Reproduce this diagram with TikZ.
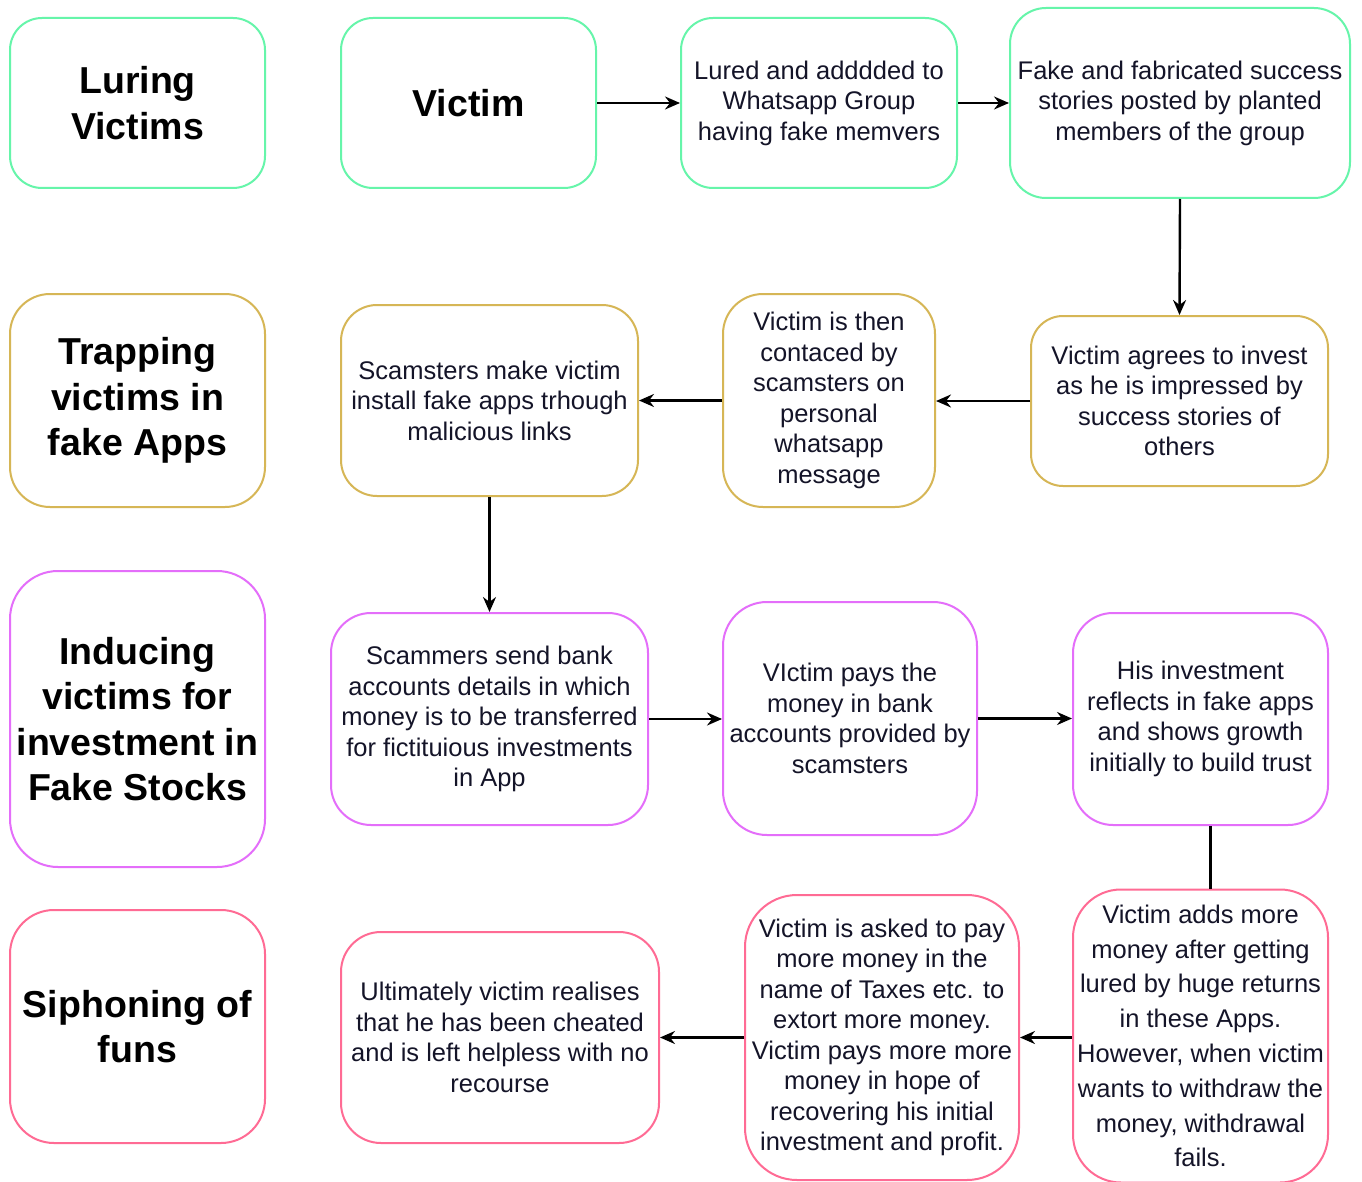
\documentclass[tikz,border=0pt]{standalone}
\usepackage{fontspec}
\setmainfont{Liberation Sans}
\usetikzlibrary{arrows.meta}
\definecolor{cgreen}{HTML}{66F5AA}
\definecolor{cgold}{HTML}{D6B656}
\definecolor{cviolet}{HTML}{E46EFA}
\definecolor{cpink}{HTML}{FF6B94}
\definecolor{ctext}{HTML}{141428}
\tikzset{
  box/.style={draw, line width=2pt, align=center, inner sep=1pt, text=ctext,
    font=\fontsize{25.5}{30.5}\selectfont},
  head/.style={box, text=black, font=\bfseries\fontsize{37.5}{45.5}\selectfont},
  arr/.style={-{Stealth[length=15pt,width=13pt,inset=5pt]}, line width=2.4pt},
  plain/.style={line width=2.4pt},
}
\begin{document}
\begin{tikzpicture}[x=1pt,y=-1pt]
\useasboundingbox[fill=white] (0,0) rectangle (1362,1182);
% Row 1
\node[head, draw=cgreen, minimum width=255pt, minimum height=170pt, rounded corners=32pt] (luring) at (137.5,103) {Luring\\Victims};
\node[head, draw=cgreen, minimum width=255pt, minimum height=170pt, rounded corners=32pt] (victim) at (468.5,103) {Victim};
\node[box, draw=cgreen, minimum width=276pt, minimum height=170pt, rounded corners=32pt] (lured) at (819,103) {Lured and adddded to\\Whatsapp Group\\having fake memvers};
\node[box, draw=cgreen, minimum width=340pt, minimum height=190pt, rounded corners=36pt] (fake) at (1180,103) {Fake and fabricated success\\stories posted by planted\\members of the group};
% Row 2
\node[head, draw=cgold, minimum width=255pt, minimum height=213pt, rounded corners=40pt] (trapping) at (137.5,400.5) {Trapping\\victims in\\fake Apps};
\node[box, draw=cgold, minimum width=297pt, minimum height=191pt, rounded corners=36pt] (make) at (489.5,400.5) {Scamsters make victim\\install fake apps trhough\\malicious links};
\node[box, draw=cgold, minimum width=212pt, minimum height=213pt, rounded corners=40pt] (contacted) at (829,400.5) {Victim is then\\contaced by\\scamsters on\\personal\\whatsapp\\message};
\node[box, draw=cgold, minimum width=297pt, minimum height=170pt, rounded corners=32pt] (agrees) at (1179.5,401) {Victim agrees to invest\\as he is impressed by\\success stories of\\others};
% Row 3
\node[head, draw=cviolet, minimum width=255pt, minimum height=296pt, rounded corners=48pt] (inducing) at (137.5,719) {Inducing\\victims for\\investment in\\Fake Stocks};
\node[box, draw=cviolet, minimum width=317pt, minimum height=212pt, rounded corners=40pt] (send) at (489.5,719) {Scammers send bank\\accounts details in which\\money is to be transferred\\for fictituious investments\\in App};
\node[box, draw=cviolet, minimum width=254pt, minimum height=233pt, rounded corners=44pt] (pays) at (850,718.5) {VIctim pays the\\money in bank\\accounts provided by\\scamsters};
\node[box, draw=cviolet, minimum width=255pt, minimum height=212pt, rounded corners=40pt] (his) at (1200.5,719) {His investment\\reflects in fake apps\\and shows growth\\initially to build trust};
% Row 4
\node[head, draw=cpink, minimum width=255pt, minimum height=233pt, rounded corners=44pt] (siphon) at (137.5,1026.5) {Siphoning of\\funs};
\node[box, draw=cpink, minimum width=318pt, minimum height=211pt, rounded corners=40pt] (ultimately) at (500,1037.5) {Ultimately victim realises\\that he has been cheated\\and is left helpless with no\\recourse};
\node[box, draw=cpink, minimum width=274pt, minimum height=285pt, rounded corners=52pt] (asked) at (882,1037.5) {Victim is asked to pay\\more money in the\\name of Taxes etc. to\\extort more money.\\Victim pays more more\\money in hope of\\recovering his initial\\investment and profit.};
\node[box, draw=cpink, minimum width=255pt, minimum height=293pt, rounded corners=48pt,
  font=\fontsize{25.5}{34.8}\selectfont] (adds) at (1200.5,1036) {Victim adds more\\money after getting\\lured by huge returns\\in these Apps.\\However, when victim\\wants to withdraw the\\money, withdrawal\\fails.};
% Connectors
\draw[arr] (victim.east) -- (lured.west);
\draw[arr] (lured.east) -- (fake.west |- lured.east);
\draw[arr] (fake.south) -- (agrees.north);
\draw[arr] (agrees.west) -- (contacted.east |- agrees.west);
\draw[arr] (contacted.west) -- (make.east |- contacted.west);
\draw[arr] (make.south) -- (send.north);
\draw[arr] (send.east) -- (pays.west |- send.east);
\draw[arr] (pays.east) -- (his.west |- pays.east);
\draw[plain] ([xshift=10pt]his.south) -- ([xshift=10pt]his.south |- adds.north);
\draw[arr] (adds.west |- asked.east) -- (asked.east);
\draw[arr] (asked.west) -- (ultimately.east |- asked.west);
\end{tikzpicture}
\end{document}
